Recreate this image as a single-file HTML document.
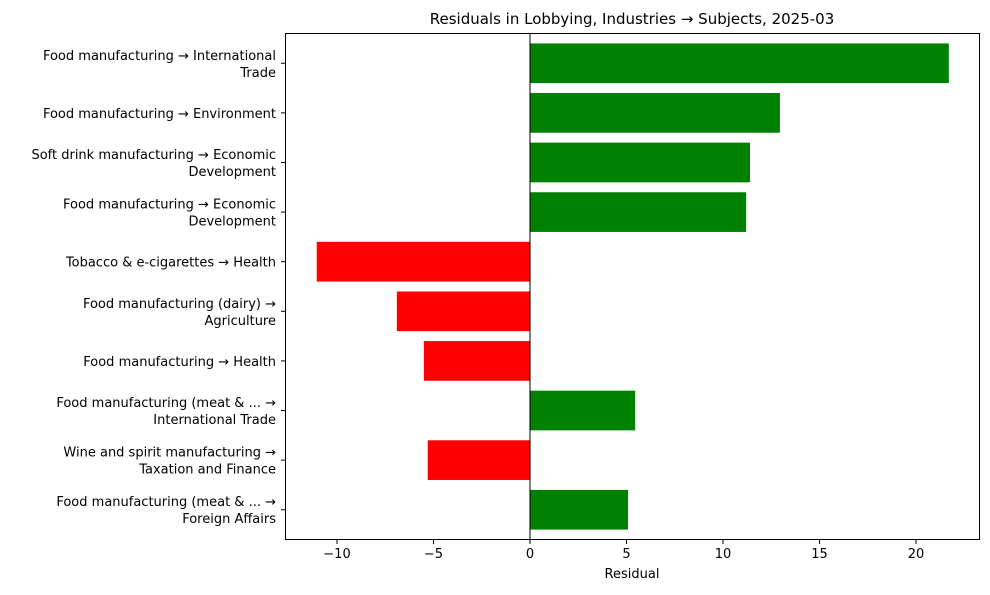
<!DOCTYPE html>
<html><head><meta charset="utf-8"><style>
body{margin:0;background:#fff;font-family:"Liberation Sans","DejaVu Sans",sans-serif}
</style></head><body>
<svg id="chart" width="990" height="590" viewBox="0 0 990 590" xmlns="http://www.w3.org/2000/svg" font-family="DejaVu Sans, Liberation Sans, sans-serif">
<rect width="990" height="590" fill="#fff"/>
<text x="632" y="24" font-size="15" text-anchor="middle">Residuals in Lobbying, Industries → Subjects, 2025-03</text>
<g id="bars"></g><g id="ylabels"></g><g id="xticks"></g>
<line id="zeroline" stroke="#000" stroke-width="1"/>
<rect x="285.5" y="33.5" width="694" height="506" fill="none" stroke="#000" stroke-width="1"/>
<text x="632" y="578" font-size="13" text-anchor="middle">Residual</text>
</svg>
<script>
const categories=[
["Food manufacturing → International","Trade"],
["Food manufacturing → Environment"],
["Soft drink manufacturing  → Economic","Development"],
["Food manufacturing → Economic","Development"],
["Tobacco & e-cigarettes → Health"],
["Food manufacturing (dairy) →","Agriculture"],
["Food manufacturing → Health"],
["Food manufacturing (meat & ... →","International Trade"],
["Wine and spirit manufacturing →","Taxation and Finance"],
["Food manufacturing (meat & ... →","Foreign Affairs"]];
const residuals=[21.7,12.95,11.4,11.2,-11.05,-6.9,-5.5,5.45,-5.3,5.08];
const xTicks=[-10,-5,0,5,10,15,20];
(function(){
const NS="http://www.w3.org/2000/svg";
const x=v=>530+v*19.3;
const plotTop=33.5,plotBottom=539.5,n=categories.length;
const step=(plotBottom-plotTop)/(n+0.2);
const yc=i=>plotTop+step*(0.6+i);
const bh=step*0.8;
function mk(t,a,p){const e=document.createElementNS(NS,t);for(const k in a)e.setAttribute(k,a[k]);p.appendChild(e);return e;}
const bars=document.getElementById('bars'),yl=document.getElementById('ylabels'),xt=document.getElementById('xticks');
residuals.forEach((v,i)=>{
 const r=mk('rect',{x:Math.min(x(0),x(v)),y:yc(i)-bh/2,width:Math.abs(x(v)-x(0)),height:bh,fill:v>=0?'#008000':'#ff0000'},bars);
 
 
 mk('line',{x1:281,x2:285,y1:yc(i),y2:yc(i),stroke:'#000'},yl);
 const lines=categories[i];
 const t=mk('text',{x:276,'font-size':13,'text-anchor':'end'},yl);
 
 
 lines.forEach((s,j)=>{const ts=mk('tspan',{x:276,y:yc(i)+5+(j-(lines.length-1)/2)*17},t);ts.textContent=s;});
});
xTicks.forEach(v=>{
 mk('line',{x1:x(v),x2:x(v),y1:540,y2:544,stroke:'#000'},xt);
 const t=mk('text',{x:x(v),y:558,'font-size':13,'text-anchor':'middle'},xt);
 
 
 t.textContent=v<0?'−'+Math.abs(v):v;
});
const z=document.getElementById('zeroline');
z.setAttribute('x1',x(0));z.setAttribute('x2',x(0));z.setAttribute('y1',plotTop);z.setAttribute('y2',plotBottom);


})();
</script>
</body></html>
